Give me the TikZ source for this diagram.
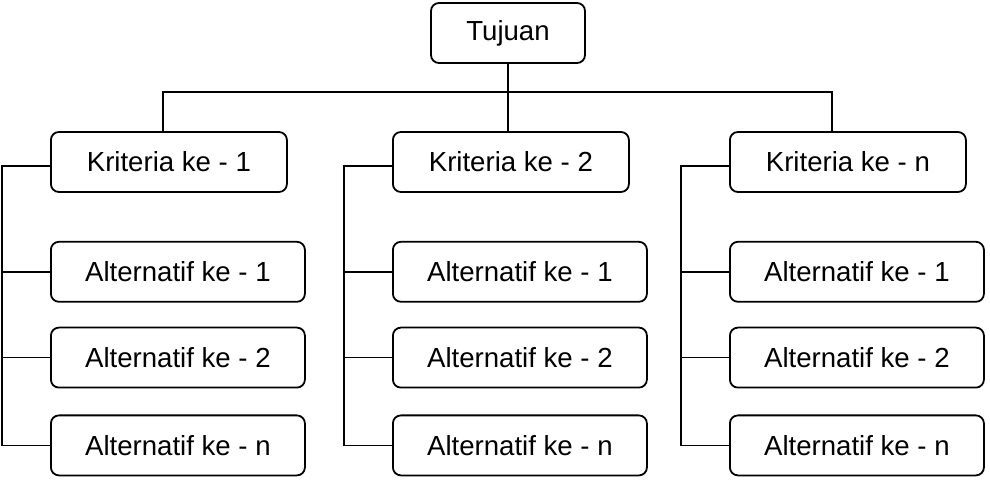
\documentclass[tikz,border=0pt]{standalone}
\usepackage{fontspec}
\setmainfont{Liberation Sans}
\usetikzlibrary{positioning}

\begin{document}
\begin{tikzpicture}[
        x=0.5pt, y=-0.5pt,
        line width=0.9pt,
        font=\fontsize{13.8}{16}\selectfont,
        box/.style={draw, rectangle, align=center, rounded corners=4pt, minimum height=30pt, inner sep=0pt},
        goal/.style={box, minimum width=77pt},
        crit/.style={box, minimum width=118pt},
        alt/.style={box, minimum width=127pt},
    ]
        \useasboundingbox (0,0) rectangle (990,491);
        \node[goal] (tujuan) at (508,33) {Tujuan};
        \node[crit, anchor=west] (krit1) at (50,162) {Kriteria ke - 1};
        \node[crit, anchor=west] (krit2) at (392,162) {Kriteria ke - 2};
        \node[crit, anchor=west] (kritn) at (729,162) {Kriteria ke - n};
        \coordinate (bus) at (508,92);
        \draw (tujuan) -- (tujuan |- krit2.north);
        \draw ([xshift=-3pt]krit1.north) |- (bus) -| ([xshift=-8pt]kritn.north);
        \foreach \c in {1,2,n} {
            \node[alt, below=24pt of krit\c.south west, anchor=north west] (alt\c-1) {Alternatif ke - 1};
            \node[alt, below=12pt of alt\c-1.south west, anchor=north west] (alt\c-2) {Alternatif ke - 2};
            \node[alt, below=13pt of alt\c-2.south west, anchor=north west] (alt\c-n) {Alternatif ke - n};
            \draw ([yshift=-2pt]krit\c.west) -- ++(-24pt,0) |- (alt\c-n.west);
            \draw (alt\c-1.west) -- ++(-24pt,0);
            \draw (alt\c-2.west) -- ++(-24pt,0);
        }
    \end{tikzpicture}
\end{document}
